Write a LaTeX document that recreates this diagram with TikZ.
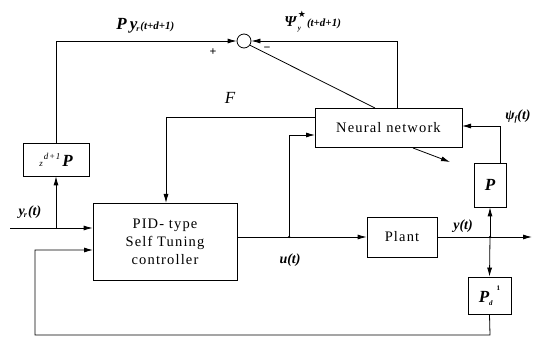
\documentclass[tikz,border=0pt]{standalone}
\usepackage{fontspec}
\setmainfont{Liberation Serif}
\newfontfamily\dejavu{DejaVu Sans}
\usetikzlibrary{arrows.meta}
\newcommand{\boxfont}{\fontsize{14.5}{17}\selectfont\addfontfeature{LetterSpace=8}}
\begin{document}
\begin{tikzpicture}[x=1pt,y=-1pt,line width=0.8pt,
  blk/.style={draw,rectangle,inner sep=0pt,align=center,font=\boxfont},
  arr/.style={-{Latex[length=9pt,width=5pt]}},
  lbl/.style={font=\fontsize{14}{16}\selectfont\bfseries\itshape,inner sep=0pt},
  dot/.style={circle,fill,inner sep=0pt,minimum size=2.5pt}]
\useasboundingbox (0,0) rectangle (544,347);

% blocks
\node[blk,minimum width=144pt,minimum height=77pt] (pid) at (165,241.5)
  {PID- type\\[1pt]Self Tuning\\[1pt]controller};
\node[blk,minimum width=70pt,minimum height=40pt] (plant) at (402,237) {Plant};
\node[blk,minimum width=147pt,minimum height=39pt] (nn) at (388.5,127.5) {Neural network};
\node[blk,minimum width=66pt,minimum height=33pt] (zb) at (56,159.5)
  {\fontsize{9}{10}\selectfont\itshape z\kern1pt\raisebox{7pt}{d+1}\kern2pt\fontsize{17}{18}\selectfont\bfseries\itshape P};
\node[blk,minimum width=32pt,minimum height=44pt] (pb) at (490,185)
  {\fontsize{17}{18}\selectfont\bfseries\itshape P};
\node[blk,minimum width=43pt,minimum height=37pt] (pd) at (489.5,295.5)
  {\fontsize{17}{18}\selectfont\bfseries\itshape P\raisebox{-3pt}{\fontsize{7}{8}\selectfont d}\kern4pt\raisebox{12pt}{\fontsize{7}{8}\selectfont\upshape 1}};
\node[draw,circle,minimum size=14pt,inner sep=0pt] (sum) at (244,41) {};

% coordinates
\coordinate (yin) at (10,228);
\coordinate (jr) at (56,228);
\coordinate (nnt) at (397,108);
\coordinate (nnd) at (375,108);
\coordinate (fA) at (315,117);
\coordinate (fB) at (166,203);
\coordinate (ju) at (289,237);
\coordinate (nin) at (315,135);
\coordinate (nno1) at (413,148);
\coordinate (nno2) at (450,162);
\coordinate (jy) at (490,237);
\coordinate (yout) at (532,237);
\coordinate (pt) at (500,163);
\coordinate (nnr) at (462,126);
\coordinate (fb1) at (490,335);
\coordinate (fb2) at (35,250);
\coordinate (fb3) at (93,250);

% connectors
\draw[arr] (yin) -- (pid.west |- yin);
\draw[arr] (jr) -- (zb.south);
\draw[arr] (zb.north) |- (sum.west);
\draw[arr] (nnt) |- (sum.east);
\draw (sum.-35) -- (nnd);
\draw[arr] (fA) -| (fB);
\draw[arr] (pid.east |- plant.west) -- (plant.west);
\draw[arr] (ju) |- (nin);
\draw[arr] (nno1) -- (nno2);
\draw[arr] (plant.east) -- (yout);
\draw[arr] (jy) -- (pb.south);
\draw[arr] (jy) -- (pd.north);
\draw[arr] (pt) |- (nnr);
\draw[arr] (pd.south) -- (fb1) -| (fb2) -- (fb3);
\node[dot] at (ju) {};
\node[dot] at (jy) {};

% labels
\node[font=\fontsize{12}{12}\selectfont\bfseries] at (213,52) {+};
\node[font=\fontsize{12}{12}\selectfont\bfseries] at (267,49) {−};
\node[lbl,anchor=west] (lpy) at (116,26)
  {\fontsize{17}{18}\selectfont P\kern3pt y\kern-1pt\raisebox{-2pt}{\fontsize{8}{9}\selectfont r}\kern1pt\fontsize{11}{12}\selectfont(t+d+1)};
\node[lbl,anchor=west] (lpsi) at (284,22)
  {\fontsize{15}{16}\selectfont Ψ\kern1.5pt\rlap{\raisebox{9pt}{\dejavu\fontsize{9}{9}\selectfont\upshape\mdseries ★}}\raisebox{-4pt}{\fontsize{7}{8}\selectfont y}\kern6pt\fontsize{11}{12}\selectfont(t+d+1)};
\node[font=\fontsize{17}{18}\selectfont\itshape,inner sep=0pt] (lF) at (230,98) {F};
\node[lbl] (lyr) at (30,212) {y\kern-1pt\raisebox{-2pt}{\fontsize{8}{9}\selectfont r}\kern1pt(t)};
\node[lbl] (lu) at (290,260) {u(t)};
\node[lbl] (ly) at (463,226) {y(t)};
\node[lbl] (lpf) at (518,116) {ψ\raisebox{-2pt}{\fontsize{8}{9}\selectfont f}(t)};
\end{tikzpicture}
\end{document}
